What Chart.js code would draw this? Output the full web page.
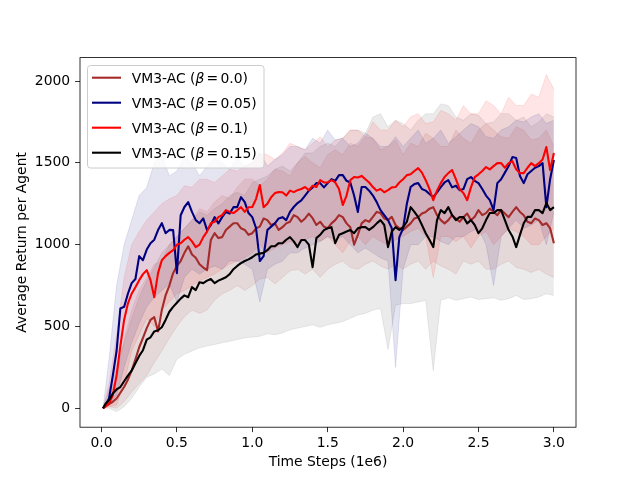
<!DOCTYPE html>
<html>
<head>
<meta charset="utf-8">
<script src="https://cdn.jsdelivr.net/npm/chart.js@4.4.1/dist/chart.umd.min.js"></script>
<style>
  html, body { margin: 0; padding: 0; background: #fff; }
  canvas { display: block; }
</style>
</head>
<body>
<canvas id="chart" width="640" height="480"></canvas>
<script>
// positions des courbes sur l'axe des x (millions de pas)
const lineX = [
  0.01, 0.025, 0.05, 0.075, 0.1, 0.125, 0.15, 0.175, 0.2, 0.225,
  0.25, 0.275, 0.3, 0.325, 0.35, 0.375, 0.4, 0.425, 0.45, 0.475,
  0.5, 0.525, 0.55, 0.575, 0.6, 0.625, 0.65, 0.675, 0.7, 0.725,
  0.75, 0.775, 0.8, 0.825, 0.85, 0.875, 0.9, 0.925, 0.95, 0.975,
  1.0, 1.025, 1.05, 1.075, 1.1, 1.125, 1.15, 1.175, 1.2, 1.225,
  1.25, 1.275, 1.3, 1.325, 1.35, 1.375, 1.4, 1.425, 1.45, 1.475,
  1.5, 1.525, 1.55, 1.575, 1.6, 1.625, 1.65, 1.675, 1.7, 1.725,
  1.75, 1.775, 1.8, 1.825, 1.85, 1.875, 1.9, 1.925, 1.95, 1.975,
  2.0, 2.025, 2.05, 2.075, 2.1, 2.125, 2.15, 2.175, 2.2, 2.225,
  2.25, 2.275, 2.3, 2.325, 2.35, 2.375, 2.4, 2.425, 2.45, 2.475,
  2.5, 2.525, 2.55, 2.575, 2.6, 2.625, 2.65, 2.675, 2.7, 2.725,
  2.75, 2.775, 2.8, 2.825, 2.85, 2.875, 2.9, 2.925, 2.95, 2.975,
  3.0
];

// moyennes
const meanBeta000 = [
  0, 12, 25, 40, 60, 95, 130, 175, 230, 300,
  373, 430, 490, 540, 557, 470, 600, 690, 750, 826,
  870, 900, 950, 990, 940, 920, 880, 860, 844, 1028,
  1070, 1040, 1046, 1090, 1110, 1131, 1131, 1100, 1090, 1060,
  1070, 1100, 1110, 1160, 1150, 1120, 1130, 1090, 1107, 1130,
  1140, 1180, 1168, 1140, 1160, 1190, 1162, 1120, 1140, 1110,
  1101, 1130, 1150, 1180, 1168, 1130, 1107, 1000, 1060, 1130,
  1150, 1140, 1170, 1200, 1193, 1160, 1150, 1170, 1120, 1100,
  1089, 1110, 1130, 1160, 1168, 1190, 1200, 1220, 1229, 1180,
  1150, 1130, 1150, 1180, 1160, 1140, 1168, 1190, 1150, 1170,
  1211, 1180, 1193, 1220, 1200, 1180, 1211, 1190, 1168, 1200,
  1229, 1200, 1180, 1140, 1131, 1160, 1150, 1120, 1131, 1100,
  1009
];
const meanBeta005 = [
  0, 20, 60, 200, 350, 610, 620, 700, 765, 790,
  930, 905, 970, 1009, 1030, 1089, 1131, 1070, 1090, 1089,
  826, 1180, 1230, 1260, 1200, 1150, 1131, 1160, 1089, 1120,
  1168, 1130, 1168, 1200, 1190, 1229, 1229, 1290, 1260, 1193,
  1168, 1100, 900, 930, 1089, 1110, 1130, 1160, 1168, 1150,
  1200, 1230, 1254, 1270, 1300, 1330, 1350, 1376, 1376, 1350,
  1376, 1400, 1390, 1425, 1425, 1390, 1380, 1300, 1199, 1352,
  1352, 1330, 1300, 1260, 1211, 1180, 1150, 1100, 783, 1046,
  1100, 1250, 1352, 1370, 1376, 1340, 1330, 1310, 1290, 1320,
  1352, 1380, 1394, 1350, 1360, 1333, 1340, 1400, 1413, 1390,
  1376, 1340, 1300, 1272, 1211, 1376, 1400, 1440, 1480, 1535,
  1530, 1420, 1376, 1430, 1450, 1470, 1480, 1498, 1229, 1400,
  1517
];
const meanBeta010 = [
  0, 10, 30, 80, 200, 380, 540, 640, 700, 740,
  783, 820, 844, 783, 679, 826, 905, 930, 950, 966,
  1000, 1009, 1030, 1046, 1020, 985, 1000, 1046, 1080, 1131,
  1140, 1168, 1180, 1211, 1200, 1193, 1210, 1229, 1200, 1229,
  1230, 1280, 1364, 1229, 1250, 1290, 1315, 1321, 1320, 1300,
  1330, 1321, 1333, 1340, 1352, 1333, 1360, 1352, 1394, 1380,
  1380, 1394, 1380, 1340, 1242, 1300, 1394, 1413, 1410, 1420,
  1400, 1380, 1352, 1330, 1340, 1320, 1333, 1350, 1352, 1380,
  1400, 1425, 1430, 1450, 1468, 1440, 1394, 1340, 1272, 1330,
  1376, 1413, 1437, 1456, 1400, 1340, 1315, 1272, 1350, 1413,
  1430, 1450, 1474, 1460, 1480, 1498, 1498, 1470, 1498, 1510,
  1460, 1437, 1437, 1470, 1498, 1480, 1498, 1520, 1596, 1456,
  1560
];
const meanBeta015 = [
  0, 25, 50, 90, 115, 130, 165, 200, 230, 275,
  320, 355, 420, 434, 470, 477, 495, 540, 590, 620,
  645, 670, 690, 679, 740, 722, 770, 765, 780, 790,
  765, 780, 790, 801, 820, 850, 870, 887, 900, 910,
  923, 940, 945, 950, 966, 990, 990, 1009, 1009, 1030,
  1046, 1020, 985, 1028, 1028, 1000, 862, 1040, 1060, 1089,
  1100, 1107, 1009, 1060, 1070, 1080, 1089, 1070, 1100, 1107,
  1107, 1090, 1107, 1130, 1150, 1120, 985, 1080, 1107, 1090,
  1107, 1140, 1229, 1200, 1168, 1120, 1070, 1030, 985, 1150,
  1211, 1193, 1229, 1180, 1150, 1168, 1168, 1130, 1150, 1120,
  1070, 1100, 1150, 1193, 1193, 1211, 1211, 1150, 1089, 1050,
  985, 1060, 1131, 1170, 1170, 1211, 1211, 1193, 1254, 1211,
  1229
];

// enveloppes (zones ombrées)
const bandX = [
  0.01, 0.05, 0.1, 0.15, 0.2, 0.25, 0.3, 0.35, 0.4, 0.45,
  0.5, 0.55, 0.6, 0.65, 0.7, 0.75, 0.8, 0.85, 0.9, 0.95,
  1.0, 1.05, 1.1, 1.15, 1.2, 1.25, 1.3, 1.35, 1.4, 1.45,
  1.5, 1.55, 1.6, 1.65, 1.7, 1.75, 1.8, 1.85, 1.9, 1.95,
  2.0, 2.05, 2.1, 2.15, 2.2, 2.25, 2.3, 2.35, 2.4, 2.45,
  2.5, 2.55, 2.6, 2.65, 2.7, 2.75, 2.8, 2.85, 2.9, 2.95,
  3.0
];
const upperBeta000 = [
  0, 60, 200, 420, 600, 720, 800, 880, 900, 1000,
  1050, 1100, 1150, 1220, 1200, 1260, 1300, 1280, 1350, 1400,
  1400, 1360, 1400, 1460, 1450, 1420, 1500, 1540, 1500, 1470,
  1550, 1580, 1550, 1620, 1600, 1660, 1650, 1580, 1600, 1640,
  1550, 1620, 1600, 1680, 1650, 1600, 1600, 1700, 1650, 1620,
  1700, 1740, 1700, 1660, 1650, 1720, 1700, 1640, 1650, 1700,
  1600
];
const lowerBeta000 = [
  0, 10, 0, 40, 100, 150, 200, 280, 350, 430,
  500, 560, 600, 580, 600, 660, 700, 720, 750, 720,
  750, 790, 800, 760, 800, 840, 850, 820, 850, 800,
  850, 880, 900, 860, 850, 880, 900, 870, 850, 880,
  850, 880, 900, 850, 900, 870, 850, 820, 900, 880,
  900, 850, 850, 880, 900, 860, 850, 830, 850, 820,
  800
];
const upperBeta005 = [
  0, 300, 750, 1000, 1150, 1300, 1350, 1500, 1550, 1420,
  1450, 1540, 1500, 1420, 1480, 1530, 1500, 1460, 1530, 1480,
  1500, 1560, 1480, 1520, 1550, 1600, 1600, 1580, 1650, 1620,
  1700, 1640, 1650, 1600, 1620, 1680, 1650, 1600, 1600, 1660,
  1600, 1650, 1700, 1620, 1650, 1700, 1620, 1660, 1700, 1740,
  1720, 1660, 1650, 1700, 1720, 1760, 1750, 1780, 1800, 1740,
  1760
];
const lowerBeta005 = [
  0, 20, 80, 250, 400, 520, 620, 680, 720, 760,
  650, 800, 850, 820, 850, 870, 850, 900, 900, 880,
  850, 650, 850, 880, 900, 950, 950, 980, 1000, 1020,
  1050, 1030, 1050, 1000, 950, 980, 950, 920, 900, 250,
  850, 1000, 1000, 1050, 1050, 1020, 1000, 1050, 1050, 1080,
  1100, 1000, 750, 1050, 1100, 1150, 1100, 1120, 1150, 1000,
  1200
];
const upperBeta010 = [
  0, 150, 450, 800, 1000, 1080, 1150, 1200, 1250, 1280,
  1300, 1360, 1350, 1400, 1400, 1380, 1420, 1460, 1450, 1480,
  1500, 1560, 1550, 1520, 1560, 1620, 1600, 1580, 1620, 1660,
  1600, 1640, 1650, 1700, 1700, 1660, 1750, 1700, 1700, 1760,
  1720, 1780, 1800, 1740, 1750, 1820, 1800, 1760, 1850, 1800,
  1800, 1880, 1850, 1800, 1900, 1850, 1850, 1920, 1900, 2040,
  1950
];
const lowerBeta010 = [
  0, 10, 20, 150, 350, 450, 550, 500, 600, 650,
  700, 720, 750, 780, 800, 820, 850, 880, 900, 920,
  950, 1000, 950, 980, 1000, 1020, 1000, 1030, 1050, 1020,
  1050, 1000, 950, 1020, 1050, 1000, 1050, 1020, 1000, 1030,
  1050, 1080, 1100, 1050, 800, 1050, 1050, 1020, 1050, 980,
  1050, 1080, 1000, 1050, 1100, 1080, 1050, 1000, 1000, 1050,
  1100
];
const upperBeta015 = [
  0, 120, 250, 400, 550, 680, 780, 860, 950, 1000,
  1050, 1100, 1150, 1200, 1180, 1220, 1250, 1300, 1320, 1300,
  1380, 1400, 1420, 1460, 1480, 1450, 1500, 1560, 1560, 1600,
  1620, 1600, 1650, 1700, 1700, 1680, 1780, 1800, 1720, 1760,
  1740, 1700, 1760, 1800, 1800, 1860, 1850, 1780, 1760, 1800,
  1790, 1740, 1750, 1800, 1800, 1760, 1780, 1720, 1750, 1800,
  1780
];
const lowerBeta015 = [
  0, 0, -20, 10, 60, 130, 190, 210, 240, 200,
  300, 330, 350, 370, 380, 390, 400, 410, 420, 430,
  435, 440, 455, 450, 460, 480, 490, 500, 510, 495,
  510, 520, 530, 550, 570, 580, 600, 610, 360, 630,
  640, 640, 650, 660, 230, 660, 675, 660, 670, 680,
  665, 670, 675, 660, 670, 690, 665, 670, 680, 700,
  690
];

const seriesLabels = ["0.0", "0.05", "0.1", "0.15"];
const xTicks = [0, 0.5, 1, 1.5, 2, 2.5, 3];
const yTicks = [0, 500, 1000, 1500, 2000];

const FONT = "DejaVu Sans";
const colors = ["#a52a2a", "#000080", "#ff0000", "#000000"];
const fills = ["rgba(165,42,42,0.1)", "rgba(0,0,128,0.1)", "rgba(255,0,0,0.1)", "rgba(0,0,0,0.08)"];
const means = [meanBeta000, meanBeta005, meanBeta010, meanBeta015];
const uppers = [upperBeta000, upperBeta005, upperBeta010, upperBeta015];
const lowers = [lowerBeta000, lowerBeta005, lowerBeta010, lowerBeta015];

function pts(xs, ys) {
  return xs.map((x, i) => ({ x: x, y: ys[i] }));
}

// zones d'abord (paires haut/bas), puis les courbes
const datasets = [];
for (let i = 0; i < 4; i++) {
  datasets.push({
    data: pts(bandX, uppers[i]),
    borderColor: fills[i], borderWidth: 1, pointRadius: 0, fill: false, order: 20 + i
  });
  datasets.push({
    data: pts(bandX, lowers[i]),
    borderColor: fills[i], borderWidth: 1, pointRadius: 0,
    fill: "-1", backgroundColor: fills[i], order: 20 + i
  });
}
for (let i = 0; i < 4; i++) {
  datasets.push({
    data: pts(lineX, means[i]),
    borderColor: colors[i], borderWidth: 2.1, pointRadius: 0,
    borderJoinStyle: "round", fill: false, order: 4 - i
  });
}

// cadre complet + légende façon matplotlib
const framePlugin = {
  id: "frame",
  afterDatasetsDraw(chart) {
    const a = chart.chartArea, ctx = chart.ctx;
    ctx.save();
    ctx.strokeStyle = "#000";
    ctx.lineWidth = 0.8;
    ctx.strokeRect(a.left, a.top, a.right - a.left, a.bottom - a.top);
    ctx.restore();
  },
  afterDraw(chart) {
    const ctx = chart.ctx;
    ctx.save();
    const bx = 87.5, by = 65.5, bw = 176.5, bh = 102.5, r = 3;
    ctx.beginPath();
    ctx.moveTo(bx + r, by);
    ctx.arcTo(bx + bw, by, bx + bw, by + bh, r);
    ctx.arcTo(bx + bw, by + bh, bx, by + bh, r);
    ctx.arcTo(bx, by + bh, bx, by, r);
    ctx.arcTo(bx, by, bx + bw, by, r);
    ctx.closePath();
    ctx.fillStyle = "rgba(255,255,255,0.8)";
    ctx.fill();
    ctx.strokeStyle = "#cccccc";
    ctx.lineWidth = 1;
    ctx.stroke();

    const regular = "13.9px '" + FONT + "'";
    const italic = "italic 13.9px '" + FONT + "'";
    for (let i = 0; i < 4; i++) {
      const ly = 77.7 + i * 25;
      ctx.strokeStyle = colors[i];
      ctx.lineWidth = 2.1;
      ctx.beginPath();
      ctx.moveTo(92, ly);
      ctx.lineTo(121, ly);
      ctx.stroke();

      const ty = 83.3 + i * 25;
      let tx = 131.7;
      ctx.fillStyle = "#000";
      ctx.textBaseline = "alphabetic";
      ctx.textAlign = "left";
      ctx.font = regular;
      ctx.fillText("VM3-AC (", tx, ty);
      tx += ctx.measureText("VM3-AC (").width;
      ctx.font = italic;
      ctx.fillText("\u03b2", tx, ty);
      tx += ctx.measureText("\u03b2").width + 2.2;
      ctx.font = regular;
      ctx.fillText("=", tx, ty);
      tx += ctx.measureText("=").width + 2.2;
      ctx.fillText(seriesLabels[i] + ")", tx, ty);
    }
    ctx.restore();
  }
};

const tickFont = { family: FONT, size: 13.9 };

new Chart(document.getElementById("chart"), {
  type: "line",
  data: { datasets: datasets },
  options: {
    responsive: false,
    animation: false,
    devicePixelRatio: 1,
    layout: { padding: { top: 57.6, right: 64, left: 0, bottom: 0 } },
    plugins: { legend: { display: false }, tooltip: { enabled: false } },
    scales: {
      x: {
        type: "linear",
        min: -0.1426,
        max: 3.1466,
        afterFit: s => { s.height = 52.8; },
        afterBuildTicks: s => { s.ticks = xTicks.map(v => ({ value: v })); },
        ticks: { font: tickFont, color: "#000", padding: 3, maxRotation: 0,
                 callback: v => v.toFixed(1) },
        grid: { drawOnChartArea: false, drawTicks: true, tickLength: 4.9, color: "#000", lineWidth: 0.8 },
        border: { display: false },
        title: { display: true, text: "Time Steps (1e6)", font: tickFont, color: "#000",
                 padding: { top: 0, bottom: 9.4 } }
      },
      y: {
        type: "linear",
        min: -115.5,
        max: 2143,
        afterFit: s => { s.width = 80; },
        afterBuildTicks: s => { s.ticks = yTicks.map(v => ({ value: v })); },
        ticks: { font: tickFont, color: "#000", padding: 4.9, callback: v => String(v) },
        grid: { drawOnChartArea: false, drawTicks: true, tickLength: 4.9, color: "#000", lineWidth: 0.8 },
        border: { display: false },
        title: { display: true, text: "Average Return per Agent", font: tickFont, color: "#000",
                 padding: { top: 14, bottom: 0 } }
      }
    }
  },
  plugins: [framePlugin]
});
</script>
</body>
</html>
